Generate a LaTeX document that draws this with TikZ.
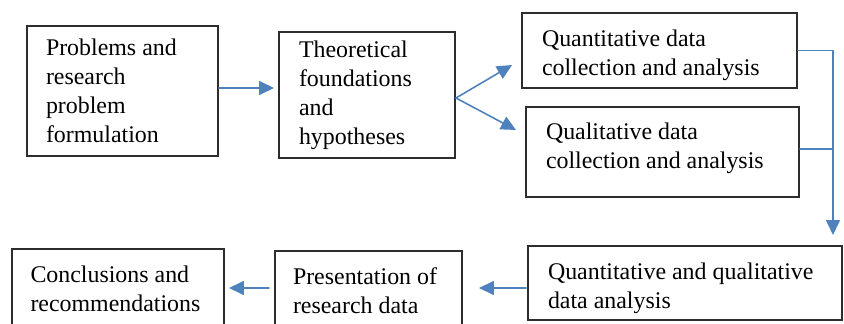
\documentclass[tikz,border=0pt]{standalone}
\usepackage{fontspec}
\setmainfont{Liberation Serif}
\usetikzlibrary{arrows.meta,positioning}
\definecolor{flowblue}{RGB}{79,129,189}
\definecolor{boxgray}{RGB}{45,45,45}

\begin{document}
\begin{tikzpicture}[x=1cm,y=1cm]
\tikzset{
  stagebox/.style={rectangle,draw=boxgray,line width=1.1pt,inner xsep=0.4cm,inner ysep=0pt,align=left,
    font=\fontsize{13.6}{16.5}\selectfont,execute at begin node={\spaceskip=0.25em\relax}},
  textdrop/.style={execute at begin node={\spaceskip=0.25em\relax\rule{0pt}{#1}}},
  textlift/.style={execute at end node={\rule[-#1]{0pt}{#1}}},
  flowline/.style={draw=flowblue,line width=0.9pt,line cap=round,line join=round},
  flowarrow/.style={flowline,-{Triangle[length=0.3cm,width=0.28cm]}}
}
\useasboundingbox (0,0) rectangle (16.88,6.46);
\clip (0,0) rectangle (16.88,6.46);
\node[stagebox,minimum width=3.82cm,minimum height=2.60cm,text width=3.06cm,inner xsep=0.38cm] (n_problem) at (2.45,4.64) {Problems~and\\research\\problem\\formulation};
\node[stagebox,minimum width=3.52cm,minimum height=2.52cm,text width=2.72cm] (n_theory) at (7.34,4.56) {Theoretical\\foundations\\and\\hypotheses};
\node[stagebox,minimum width=5.50cm,minimum height=1.50cm,text width=4.70cm,textdrop=0.52cm] (n_quant) at (13.19,5.45) {Quantitative~data\\collection~and~analysis};
\node[stagebox,minimum width=5.46cm,minimum height=1.80cm,text width=4.66cm,textlift=0.26cm] (n_qual) at (13.25,3.42) {Qualitative~data\\collection~and~analysis};
\node[stagebox,minimum width=6.28cm,minimum height=1.48cm,text width=5.48cm,textdrop=0.54cm] (n_mixed) at (13.70,0.80) {Quantitative~and~qualitative\\data~analysis};
\node[stagebox,minimum width=3.74cm,minimum height=1.60cm,text width=3.02cm,inner xsep=0.36cm] (n_present) at (7.37,0.64) {Presentation~of\\research~data};
\node[stagebox,minimum width=4.24cm,minimum height=1.60cm,text width=3.50cm,inner xsep=0.37cm] (n_concl) at (2.36,0.68) {Conclusions~and\\recommendations};
\coordinate (c_fork) at ([yshift=-0.06cm]n_theory.east);
\coordinate (c_bus) at (16.66,1.76);
\draw[flowarrow] ([yshift=0.06cm]n_problem.east) -- ([xshift=-0.08cm,yshift=0.14cm]n_theory.west);
\draw[flowarrow] (c_fork) -- ([xshift=-0.18cm,yshift=-0.29cm]n_quant.west);
\draw[flowarrow] (c_fork) -- ([xshift=-0.18cm,yshift=0.44cm]n_qual.west);
\draw[flowarrow] (n_quant.east) -| (c_bus);
\draw[flowline] ([yshift=0.06cm]n_qual.east) -- ([yshift=0.06cm]n_qual.east -| c_bus);
\draw[flowarrow] ([xshift=-0.02cm,yshift=-0.1cm]n_mixed.west) -- ([xshift=0.32cm,yshift=0.06cm]n_present.east);
\draw[flowarrow] ([xshift=-0.1cm,yshift=0.06cm]n_present.west) -- ([xshift=0.08cm,yshift=0.02cm]n_concl.east);
\end{tikzpicture}
\end{document}
